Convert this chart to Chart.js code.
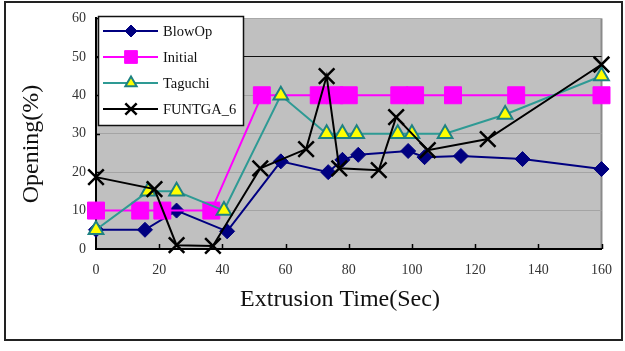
<!DOCTYPE html>
<html>
<head>
<meta charset="utf-8">
<script src="https://cdn.jsdelivr.net/npm/chart.js@4/dist/chart.umd.min.js"></script>
<style>
html,body{margin:0;padding:0;background:#fff;}
#wrap{width:625px;height:351px;position:relative;}
</style>
</head>
<body>
<div id="wrap"><canvas id="c" width="625" height="351"></canvas></div>
<script>
// ---- data ----
const xTickValues = [0, 20, 40, 60, 80, 100, 120, 140, 160];
const yTickValues = [0, 10, 20, 30, 40, 50, 60];
const seriesNames = ['BlowOp', 'Initial', 'Taguchi', 'FUNTGA_6'];

const blowX = [0, 15.5, 25.5, 41.5, 58.5, 73.5, 78, 83, 98.8, 104, 115.5, 135, 160];
const blowY = [5, 5, 10, 4.6, 22.8, 20, 23.2, 24.5, 25.5, 23.9, 24.2, 23.4, 20.8];

const initX = [0, 14, 21, 36.5, 52.5, 70.5, 75.5, 80, 96, 101, 113, 133, 160];
const initY = [10, 10, 10, 10, 40, 40, 40, 40, 40, 40, 40, 40, 40];

const taguX = [0, 16.5, 25.5, 40.5, 58.5, 73, 78, 82.5, 95.5, 100, 110.5, 129.5, 160];
const taguY = [5, 15, 15, 10, 40, 30, 30, 30, 30, 30, 30, 35, 45];

const funX = [0, 18.5, 25.5, 37, 52, 66.5, 73, 77, 89.5, 95, 105, 124, 160];
const funY = [18.7, 15.6, 1, 0.8, 21, 26, 45, 21, 20.5, 34.3, 25.7, 28.6, 48];

const xTitle = 'Extrusion Time(Sec)';
const yTitle = 'Opening(%)';

// ---- styling ----
const FONT = "'Liberation Serif', 'DejaVu Serif', serif";
const styles = [
  {line: '#000080', fill: '#000080', stroke: '#000080', style: 'rectRot', r: 7.5, lr: 6, bw: 1},
  {line: '#FF00FF', fill: '#FF00FF', stroke: '#FF00FF', style: 'rect', r: 12, lr: 9, bw: 1},
  {line: '#2E9A94', fill: '#FFFF00', stroke: '#1E8282', style: 'triangle', r: 8.5, lr: 6.5, bw: 2},
  {line: '#000000', fill: '#000000', stroke: '#000000', style: 'crossRot', r: 11, lr: 8, bw: 2.5}
];

function pts(xs, ys) { return xs.map((x, i) => ({x: x, y: ys[i]})); }
const seriesData = [pts(blowX, blowY), pts(initX, initY), pts(taguX, taguY), pts(funX, funY)];

const datasets = seriesData.map((d, i) => ({
  label: seriesNames[i],
  data: d,
  showLine: true,
  borderColor: styles[i].line,
  backgroundColor: styles[i].fill,
  borderWidth: 2,
  tension: 0,
  pointStyle: styles[i].style,
  pointRadius: styles[i].r,
  pointHoverRadius: styles[i].r,
  pointBackgroundColor: styles[i].fill,
  pointBorderColor: styles[i].stroke,
  pointBorderWidth: styles[i].bw,
  clip: false,
  order: 4 - i
}));

function drawMarker(ctx, style, x, y, r, fill, stroke, bw) {
  ctx.save();
  ctx.fillStyle = fill; ctx.strokeStyle = stroke; ctx.lineWidth = bw;
  ctx.beginPath();
  if (style === 'rect') {
    const s = r * Math.SQRT1_2;
    ctx.rect(x - s, y - s, 2 * s, 2 * s);
    ctx.fill(); ctx.stroke();
  } else if (style === 'rectRot') {
    ctx.moveTo(x, y - r); ctx.lineTo(x + r, y); ctx.lineTo(x, y + r); ctx.lineTo(x - r, y); ctx.closePath();
    ctx.fill(); ctx.stroke();
  } else if (style === 'triangle') {
    ctx.moveTo(x, y - r);
    ctx.lineTo(x + r * Math.cos(Math.PI / 6), y + r * 0.5);
    ctx.lineTo(x - r * Math.cos(Math.PI / 6), y + r * 0.5);
    ctx.closePath();
    ctx.fill(); ctx.stroke();
  } else if (style === 'crossRot') {
    const s = r * Math.SQRT1_2;
    ctx.moveTo(x - s, y - s); ctx.lineTo(x + s, y + s);
    ctx.moveTo(x + s, y - s); ctx.lineTo(x - s, y + s);
    ctx.stroke();
  }
  ctx.restore();
}

const decor = {
  id: 'decor',
  beforeDraw(chart) {
    const ctx = chart.ctx, a = chart.chartArea;
    ctx.save();
    ctx.fillStyle = '#fff';
    ctx.fillRect(0, 0, chart.width, chart.height);
    // outer frame
    ctx.strokeStyle = '#222';
    ctx.lineWidth = 2;
    ctx.strokeRect(5, 2, 617, 338);
    // plot background
    ctx.fillStyle = '#C0C0C0';
    ctx.fillRect(a.left, a.top, a.right - a.left, a.bottom - a.top);
    // right edge
    ctx.strokeStyle = '#8a8a8a';
    ctx.lineWidth = 2;
    ctx.beginPath();
    ctx.moveTo(a.right, a.top); ctx.lineTo(a.right, a.bottom);
    ctx.stroke();
    ctx.restore();
  },
  beforeDatasetsDraw(chart) {
    const ctx = chart.ctx, a = chart.chartArea;
    const xs = chart.scales.x, ys = chart.scales.y;
    ctx.save();
    ctx.strokeStyle = '#000';
    ctx.lineWidth = 1.5;
    ctx.beginPath();
    xTickValues.forEach(v => {
      if (v === 0) return;
      const px = Math.round(xs.getPixelForValue(v)) + 0.5;
      ctx.moveTo(px, a.bottom); ctx.lineTo(px, a.bottom - 5);
    });
    yTickValues.forEach(v => {
      if (v === 0) return;
      const py = Math.round(ys.getPixelForValue(v)) + 0.5;
      ctx.moveTo(a.left, py); ctx.lineTo(a.left + 4, py);
    });
    ctx.stroke();
    ctx.restore();
  },
  afterDraw(chart) {
    const ctx = chart.ctx;
    ctx.save();
    // axis titles
    ctx.fillStyle = '#111';
    ctx.font = '24px ' + FONT;
    ctx.textAlign = 'center';
    ctx.textBaseline = 'middle';
    ctx.fillText(xTitle, 340, 300);
    ctx.save();
    ctx.translate(32, 144);
    ctx.rotate(-Math.PI / 2);
    ctx.fillText(yTitle, 0, 0);
    ctx.restore();
    // legend
    const lx = 98, ly = 16, lw = 145, lh = 109;
    ctx.fillStyle = '#fff';
    ctx.fillRect(lx, ly, lw, lh);
    ctx.strokeStyle = '#111';
    ctx.lineWidth = 1.5;
    ctx.strokeRect(lx + 0.5, ly + 0.5, lw, lh);
    ctx.font = '14.5px ' + FONT;
    ctx.textAlign = 'left';
    ctx.textBaseline = 'middle';
    seriesNames.forEach((name, i) => {
      const y = ly + 15 + i * 26;
      const s = styles[i];
      ctx.strokeStyle = s.line;
      ctx.lineWidth = 2;
      ctx.beginPath();
      ctx.moveTo(103, y); ctx.lineTo(158, y);
      ctx.stroke();
      drawMarker(ctx, s.style, 131, y, s.lr, s.fill, s.stroke, s.bw);
      ctx.fillStyle = '#111';
      ctx.fillText(name, 163, y + 1);
    });
    ctx.restore();
  }
};

new Chart(document.getElementById('c'), {
  type: 'scatter',
  data: {datasets: datasets},
  options: {
    responsive: false,
    animation: false,
    devicePixelRatio: 1,
    layout: {padding: {left: 0, right: 13, top: 15, bottom: 0}},
    plugins: {legend: {display: false}, tooltip: {enabled: false}, title: {display: false}},
    scales: {
      x: {
        type: 'linear',
        min: 0, max: 160,
        afterBuildTicks: s => { s.ticks = xTickValues.map(v => ({value: v})); },
        afterFit: s => { s.height = 102; },
        ticks: {color: '#333', font: {family: FONT, size: 14}, padding: 13, maxRotation: 0},
        grid: {display: false, drawTicks: false},
        border: {display: true, color: '#000', width: 2}
      },
      y: {
        type: 'linear',
        min: 0, max: 60,
        afterBuildTicks: s => { s.ticks = yTickValues.map(v => ({value: v})); },
        afterFit: s => { s.width = 96; },
        ticks: {color: '#333', font: {family: FONT, size: 14}, padding: 10},
        grid: {
          display: true, drawTicks: false, lineWidth: 1,
          color: c => {
            const v = c.tick && c.tick.value;
            if (v === 50) return '#111';
            if (v === 60) return '#a8a8a8';
            if (v === 0) return 'rgba(0,0,0,0)';
            return '#a4a4a4';
          }
        },
        border: {display: true, color: '#000', width: 2}
      }
    }
  },
  plugins: [decor]
});
</script>
</body>
</html>
